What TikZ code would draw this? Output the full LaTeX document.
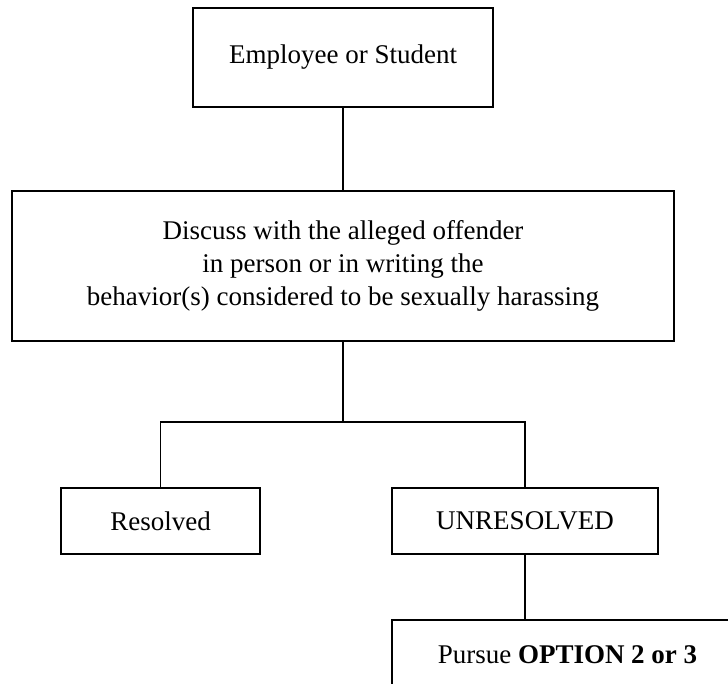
\documentclass[tikz,border=0pt]{standalone}
\usepackage{fontspec}
\setmainfont{Liberation Serif}
\begin{document}
\begin{tikzpicture}[x=1pt,y=-1pt,
  box/.style={draw, line width=1.7pt, inner sep=0pt, outer sep=0pt, align=center,
    font=\fontsize{27}{33}\selectfont},
  link/.style={line width=1.7pt}]
\useasboundingbox (0,0) rectangle (728,684);
\fill[white] (0,0) rectangle (728,684);
\clip (0,0) rectangle (728,684);
\node[box, minimum width=300pt, minimum height=99pt] (emp) at (343,57.5) {Employee or Student};
\node[box, minimum width=662pt, minimum height=150pt] (disc) at (343,266)
  {Discuss with the alleged offender\\in person or in writing the\\behavior(s) considered to be sexually harassing};
\node[box, minimum width=199pt, minimum height=66pt] (res) at (160.5,521) {Resolved};
\node[box, minimum width=266pt, minimum height=66pt] (unres) at (525,521) {UNRESOLVED};
\node[box, minimum width=351pt, minimum height=70pt] (opt) at (567.5,655) {Pursue \textbf{OPTION 2 or 3}};
\coordinate (j) at (343,422);
\draw[link] (emp.south) -- (disc.north);
\draw[link] (disc.south) -- (j);
\draw[link] (res.north) |- (j) -| (unres.north);
\draw[link] (unres.south) -- (unres.south |- opt.north);
\end{tikzpicture}
\end{document}
